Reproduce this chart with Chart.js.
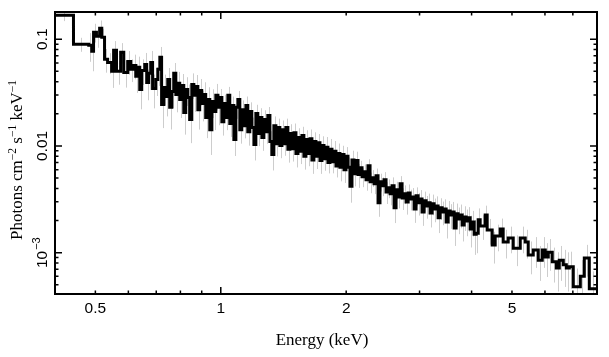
<!DOCTYPE html>
<html><head><meta charset="utf-8">
<script src="https://cdn.jsdelivr.net/npm/chart.js@4/dist/chart.umd.min.js"></script>
<style>html,body{margin:0;padding:0;background:#fff;}#wrap{width:609px;height:357px;}</style>
</head><body><div id="wrap"><canvas id="c" width="609" height="357"></canvas></div>
<script>
// Energy bin edges (keV)
const binEdges = [
 0.400,0.443,0.482,0.490,0.495,0.503,0.512,0.518,0.526,0.535,0.547,0.553,0.562,0.575,0.585,0.598,0.608,0.618,0.625,0.632,0.639,0.646,0.657,0.664,0.671,0.679,0.686,0.698,0.706,
 0.714,0.721,0.730,0.738,0.746,0.754,0.763,0.771,0.780,0.788,0.797,0.806,0.815,0.824,0.833,0.842,0.852,0.861,0.871,0.881,0.890,0.900,0.910,0.920,0.931,0.941,0.952,0.962,0.973,0.984,
 0.995,1.006,1.017,1.028,1.040,1.051,1.063,1.075,1.087,1.099,1.111,1.123,1.136,1.149,1.161,1.174,1.187,1.201,1.214,1.227,1.241,1.255,1.269,1.283,1.297,1.312,1.326,1.341,1.356,1.371,
 1.386,1.402,1.417,1.433,1.449,1.465,1.482,1.498,1.515,1.532,1.549,1.566,1.583,1.601,1.619,1.637,1.655,1.673,1.692,1.711,1.730,1.749,1.769,1.788,1.808,1.828,1.849,1.869,1.890,1.911,
 1.932,1.954,1.976,1.998,2.020,2.042,2.065,2.088,2.111,2.135,
 2.159,2.183,2.207,2.232,2.256,2.282,2.307,2.333,2.359,2.385,2.411,2.438,2.465,2.493,2.521,2.549,2.577,2.606,2.635,2.664,
 2.694,2.724,2.754,2.785,2.816,2.847,2.879,2.911,2.943,2.976,3.009,3.042,3.076,3.111,3.145,3.180,3.216,3.251,3.288,3.324,
 3.361,3.399,3.436,3.475,3.513,3.552,3.592,3.632,3.672,3.713,3.755,3.796,3.839,3.881,3.925,3.968,4.012,4.057,4.102,4.148,
 4.194,4.312,4.360,4.482,4.557,4.685,4.763,4.897,5.035,5.234,5.380,5.470,5.624,5.782,5.911,6.010,6.111,6.247,6.388,6.494,6.640,6.751,6.864,7.017,7.295,7.458,7.667,
 8.000
];
// Flux (photons cm^-2 s^-1 keV^-1), one value per bin
const flux = [
 0.168,0.0897,0.0878,0.0771,0.1164,0.1067,0.127,0.1044,0.0648,0.0607,0.050,0.0788,0.050,0.0754,0.0489,0.062,0.0522,0.0569,0.0449,0.0545,0.0339,0.051,0.0581,0.0394,0.0479,0.0607,0.0346,0.042,0.0522,
 0.0677,0.0245,0.0353,0.0291,0.042,0.023,0.0324,0.0479,0.0304,0.0386,0.0273,0.0369,0.0206,0.0339,0.0285,0.0177,0.0377,0.0298,0.0361,0.0219,0.0331,0.025,0.0304,0.0185,0.0273,0.0142,0.0261,0.021,0.0298,0.023,
 0.0285,0.0169,0.0250,0.0185,0.0298,0.0162,0.0240,0.0115,0.0230,0.0273,0.0142,0.0219,0.0155,0.0240,0.0136,0.0210,0.0149,0.0103,0.0201,0.0131,
 0.0185,0.0120,0.0177,0.0136,0.0193,0.0110,0.0083,0.0155,0.0105,0.0149,0.0101,0.0142,0.0105,0.0149,0.0093,0.0131,0.0094,0.0133,0.0085,0.0120,
 0.0089,0.0125,0.0080,0.0115,0.0085,0.0117,0.0074,0.0110,0.0080,0.0107,0.0073,0.0101,0.0076,0.0097,0.0070,0.0093,0.0071,0.0089,0.0065,0.0085,
 0.0063,0.0083,0.0060,0.0080,0.0063,0.0042,0.0074,0.0055,0.0073,0.0054,
 0.00626,0.00514,0.00574,0.00482,0.00653,0.00462,0.00503,0.00442,0.00525,0.00293,0.00462,0.00423,0.00482,0.00371,0.00405,0.00356,0.00423,0.00263,0.00388,0.00333,
 0.00442,0.00326,0.00356,0.00299,0.00363,0.00319,0.00333,0.00257,0.00341,0.00293,0.00319,0.00241,0.00306,0.00274,0.00293,0.00236,0.00287,0.00257,0.00274,0.00212,
 0.00263,0.00241,0.00257,0.00194,0.00246,0.00226,0.00241,0.0017,0.00231,0.00207,0.00226,0.00182,0.00216,0.00198,0.00212,0.00167,0.00194,0.00149,0.00152,0.00203,
 0.00178,0.00226,0.00163,0.00118,0.00143,0.00167,0.00126,0.00137,0.0011,0.00137,0.00126,0.00095,0.00106,0.00085,0.00106,0.00091,0.00101,0.00082,0.00072,0.00085,0.00077,0.00072,0.00074,0.00048,0.0006,0.00089,0.00046
];
// Relative 1-sigma errors, one per bin
const fluxRelErr = [
 0.12,0.15,0.3,0.35,0.2,0.22,0.18,0.2,0.25,0.22,0.3,0.22,0.25,0.22,0.28,0.25,0.24,0.26,0.3,0.26,0.35,0.27,0.28,0.32,0.3,0.28,0.35,0.3,0.3,
 0.25,0.4,0.32,0.35,0.28,0.38,0.3,0.25,0.32,0.28,0.33,0.28,0.38,0.3,0.32,0.4,0.27,0.3,0.28,0.35,0.28,0.32,0.3,0.36,0.3,0.42,0.3,0.33,0.28,0.32,
 0.2,0.26,0.21,0.24,0.2,0.25,0.21,0.3,0.22,0.2,0.26,0.22,0.24,0.21,0.26,0.22,0.24,0.29,0.21,0.24,0.22,0.25,0.22,0.23,0.2,0.25,0.29,0.22,0.24,0.21,
 0.24,0.22,0.23,0.21,0.25,0.22,0.24,0.22,0.26,0.22,0.24,0.21,0.25,0.22,0.24,0.22,0.26,0.22,0.24,0.21,0.25,0.22,0.23,0.25,0.21,0.25,0.22,0.25,0.22,0.24,
 0.26,0.21,0.25,0.22,0.24,0.3,0.22,0.24,0.21,0.25,
 0.16,0.2,0.17,0.21,0.15,0.22,0.18,0.2,0.17,0.26,0.19,0.2,0.18,0.23,0.2,0.22,0.2,0.28,0.19,0.22,
 0.18,0.23,0.2,0.24,0.2,0.22,0.21,0.26,0.2,0.24,0.21,0.26,0.22,0.24,0.22,0.27,0.22,0.25,0.23,0.28,
 0.23,0.25,0.23,0.3,0.24,0.26,0.24,0.32,0.25,0.28,0.25,0.3,0.26,0.28,0.26,0.33,0.27,0.36,0.35,0.28,
 0.26,0.22,0.27,0.33,0.28,0.25,0.3,0.28,0.32,0.28,0.3,0.34,0.32,0.36,0.32,0.35,0.33,0.36,0.4,0.36,0.38,0.4,0.38,0.48,0.42,0.33,0.45
];
// Axis ticks and labels
const xLimits = [0.4, 8.0];
const yLimits = [4.1e-4, 0.18];
const xLabelValues = [0.5, 1, 2, 5];
const xLabelTexts = ['0.5', '1', '2', '5'];
const xMajorTicks = [1];
const xMinorTicks = [0.5, 0.6, 0.7, 0.8, 0.9, 2, 3, 4, 5, 6, 7];
const yMajorTicks = [0.1, 0.01, 0.001];
const yMinorTicks = [5e-4,6e-4,7e-4,8e-4,9e-4,0.002,0.003,0.004,0.005,0.006,0.007,0.008,0.009,0.02,0.03,0.04,0.05,0.06,0.07,0.08,0.09];
const yLabelValues = [0.1, 0.01, 0.001];
const yLabelBases = ['0.1', '0.01', '10'];
const yLabelExps = ['', '', '\u22123'];
const xTitle = 'Energy (keV)';
const yTitleParts = [['Photons cm',''],['\u22122','sup'],[' s',''],['\u22121','sup'],[' keV',''],['\u22121','sup']];

const stepPoints = flux.map((f, i) => ({x: binEdges[i], y: f}));
stepPoints.push({x: binEdges[binEdges.length - 1], y: flux[flux.length - 1]});

const errPlugin = {
  id: 'errbars',
  beforeDatasetsDraw(chart) {
    const {ctx, chartArea: a, scales: {x, y}} = chart;
    ctx.save();
    ctx.beginPath(); ctx.rect(a.left, a.top, a.right - a.left, a.bottom - a.top); ctx.clip();
    ctx.strokeStyle = '#cdcdcd'; ctx.lineWidth = 1;
    ctx.beginPath();
    for (let i = 0; i < flux.length; i++) {
      const ec = Math.sqrt(binEdges[i] * binEdges[i + 1]);
      const px = Math.round(x.getPixelForValue(ec)) + 0.5;
      const e = fluxRelErr[i];
      ctx.moveTo(px, y.getPixelForValue(flux[i] * (1 + e)));
      ctx.lineTo(px, y.getPixelForValue(flux[i] * (1 - e)));
    }
    ctx.stroke();
    ctx.restore();
  }
};

const framePlugin = {
  id: 'frame',
  afterDraw(chart) {
    const {ctx, chartArea: a, scales: {x, y}} = chart;
    ctx.save();
    ctx.strokeStyle = '#000';
    ctx.lineWidth = 1.5;
    ctx.beginPath();
    const tx = (v, len) => { const p = x.getPixelForValue(v); ctx.moveTo(p, a.bottom); ctx.lineTo(p, a.bottom - len); ctx.moveTo(p, a.top); ctx.lineTo(p, a.top + len); };
    const ty = (v, len) => { const p = y.getPixelForValue(v); ctx.moveTo(a.left, p); ctx.lineTo(a.left + len, p); ctx.moveTo(a.right, p); ctx.lineTo(a.right - len, p); };
    xMinorTicks.forEach(v => tx(v, 3.5));
    xMajorTicks.forEach(v => tx(v, 7));
    yMinorTicks.forEach(v => ty(v, 3.5));
    yMajorTicks.forEach(v => ty(v, 7));
    ctx.stroke();
    ctx.lineWidth = 2;
    ctx.strokeRect(a.left, a.top, a.right - a.left, a.bottom - a.top);

    ctx.fillStyle = '#000';
    ctx.font = '15.5px "Liberation Sans", Arial, sans-serif';
    ctx.textAlign = 'center'; ctx.textBaseline = 'alphabetic';
    xLabelValues.forEach((v, i) => ctx.fillText(xLabelTexts[i], x.getPixelForValue(v), 313));

    yLabelValues.forEach((v, i) => {
      const p = y.getPixelForValue(v);
      ctx.save();
      ctx.translate(47, p); ctx.rotate(-Math.PI / 2);
      ctx.textAlign = 'left';
      ctx.font = '15.5px "Liberation Sans", Arial, sans-serif';
      const wb = ctx.measureText(yLabelBases[i]).width;
      let we = 0;
      if (yLabelExps[i]) { ctx.font = '11px "Liberation Sans", Arial, sans-serif'; we = ctx.measureText(yLabelExps[i]).width + 1; }
      const start = -(wb + we) / 2;
      ctx.font = '15.5px "Liberation Sans", Arial, sans-serif';
      ctx.fillText(yLabelBases[i], start, 0);
      if (yLabelExps[i]) { ctx.font = '11px "Liberation Sans", Arial, sans-serif'; ctx.fillText(yLabelExps[i], start + wb + 1, -7); }
      ctx.restore();
    });

    ctx.font = '17px "Liberation Serif", "Times New Roman", serif';
    ctx.textAlign = 'center';
    ctx.fillText(xTitle, 322, 345);

    ctx.save();
    ctx.translate(22, 160); ctx.rotate(-Math.PI / 2);
    ctx.textAlign = 'left';
    const fMain = '17px "Liberation Serif", "Times New Roman", serif';
    const fSup = '11.5px "Liberation Serif", "Times New Roman", serif';
    let total = 0;
    yTitleParts.forEach(([t, k]) => { ctx.font = k ? fSup : fMain; total += ctx.measureText(t).width; });
    let cx = -total / 2;
    yTitleParts.forEach(([t, k]) => { ctx.font = k ? fSup : fMain; ctx.fillText(t, cx, k ? -6.5 : 0); cx += ctx.measureText(t).width; });
    ctx.restore();
    ctx.restore();
  }
};

new Chart(document.getElementById('c').getContext('2d'), {
  type: 'line',
  data: {datasets: [{data: stepPoints, stepped: 'before', borderColor: '#000', borderWidth: 3, pointRadius: 0, fill: false, borderJoinStyle: 'miter', borderCapStyle: 'butt'}]},
  options: {
    responsive: false, animation: false, devicePixelRatio: 1,
    layout: {padding: {top: 12, right: 12, left: 0, bottom: 0}},
    plugins: {legend: {display: false}, tooltip: {enabled: false}},
    scales: {
      x: {type: 'logarithmic', min: xLimits[0], max: xLimits[1], grid: {display: false}, border: {display: false}, ticks: {display: false}, afterFit(s) { s.height = 63; }},
      y: {type: 'logarithmic', min: yLimits[0], max: yLimits[1], grid: {display: false}, border: {display: false}, ticks: {display: false}, afterFit(s) { s.width = 55; }}
    }
  },
  plugins: [errPlugin, framePlugin]
});
</script></body></html>
